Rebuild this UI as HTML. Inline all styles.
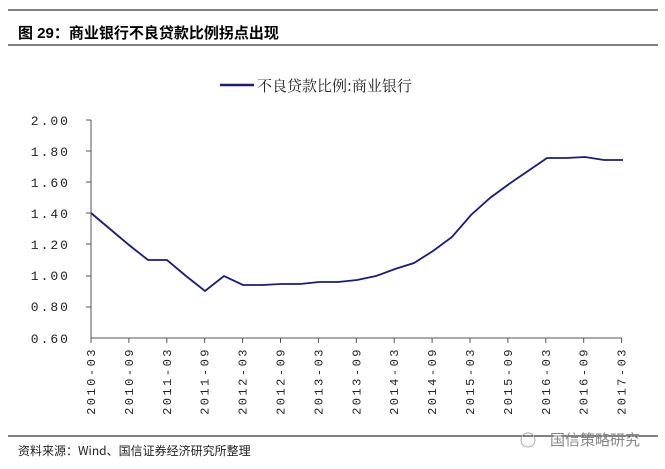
<!DOCTYPE html><html><head><meta charset="utf-8"><style>
body{margin:0;background:#fff;width:665px;height:469px;overflow:hidden;font-family:"Liberation Sans","Noto Sans CJK SC",sans-serif}
</style></head><body>
<svg width="665" height="469" xmlns="http://www.w3.org/2000/svg" style="position:absolute;left:0;top:0">
<line x1="8" y1="10" x2="658" y2="10" stroke="#000" stroke-width="1"/>
<text x="18" y="38" font-size="15" font-weight="bold" font-family="Liberation Sans,Noto Sans CJK SC,sans-serif">图 29：商业银行不良贷款比例拐点出现</text>
<line x1="8" y1="45" x2="658" y2="45" stroke="#000" stroke-width="1"/>
<line x1="220" y1="85" x2="254" y2="85" stroke="#1a1a80" stroke-width="2.5"/>
<text x="257" y="91" font-size="15" font-family="Noto Serif CJK SC,serif" fill="#222">不良贷款比例:商业银行</text>
<g font-size="13" font-family="Liberation Mono,monospace" fill="#222" text-anchor="end" letter-spacing="2">
<text x="70" y="125">2.00</text><text x="70" y="156">1.80</text><text x="70" y="187">1.60</text><text x="70" y="218">1.40</text><text x="70" y="249">1.20</text><text x="70" y="280">1.00</text><text x="70" y="311">0.80</text><text x="70" y="343">0.60</text>
</g>
<g stroke="#555" stroke-width="1">
<line x1="91" y1="120" x2="91" y2="338"/><line x1="91" y1="338" x2="622" y2="338"/>
<line x1="86" y1="120" x2="91" y2="120"/><line x1="86" y1="151" x2="91" y2="151"/><line x1="86" y1="182" x2="91" y2="182"/><line x1="86" y1="213" x2="91" y2="213"/><line x1="86" y1="244" x2="91" y2="244"/><line x1="86" y1="276" x2="91" y2="276"/><line x1="86" y1="307" x2="91" y2="307"/>
</g>
<g id="xt" font-size="12" font-family="Liberation Mono,monospace" fill="#222" letter-spacing="2.5" text-anchor="end"></g>
<polyline fill="none" stroke="#1a1a80" stroke-width="1.8" points="91,213 110,229 129,245 148,260 167,260 186,276 205,291 224,276 243,285 262,285 281,284 300,284 319,282 338,282 357,280 376,276 395,269 414,263 433,251 452,237 471,215 490,198 509,184 528,171 547,158 566,158 585,157 604,160 623,160"/>
<line x1="8" y1="436" x2="658" y2="436" stroke="#000" stroke-width="1"/>
<text x="18" y="455" font-size="12" font-family="Noto Sans CJK SC,sans-serif" fill="#222">资料来源：Wind、国信证券经济研究所整理</text>
<text x="550" y="445" font-size="15" font-family="Noto Sans CJK SC,sans-serif" fill="#888">国信策略研究</text>
<circle cx="528" cy="440" r="7" fill="none" stroke="#aaa"/>
</svg>
<script>
var g=document.getElementById('xt');
for(var i=0;i<15;i++){var y=2010+Math.floor(i/2),m=i%2?'09':'03';var x=91+i*37.9;
var t=document.createElementNS('http://www.w3.org/2000/svg','line');t.setAttribute('x1',x);t.setAttribute('x2',x);t.setAttribute('y1',338);t.setAttribute('y2',343);t.setAttribute('stroke','#555');g.appendChild(t);
var s=document.createElementNS('http://www.w3.org/2000/svg','text');s.setAttribute('transform','translate('+(x+4)+',347) rotate(-90)');s.textContent=y+'-'+m;g.appendChild(s);}
</script>
</body></html>
